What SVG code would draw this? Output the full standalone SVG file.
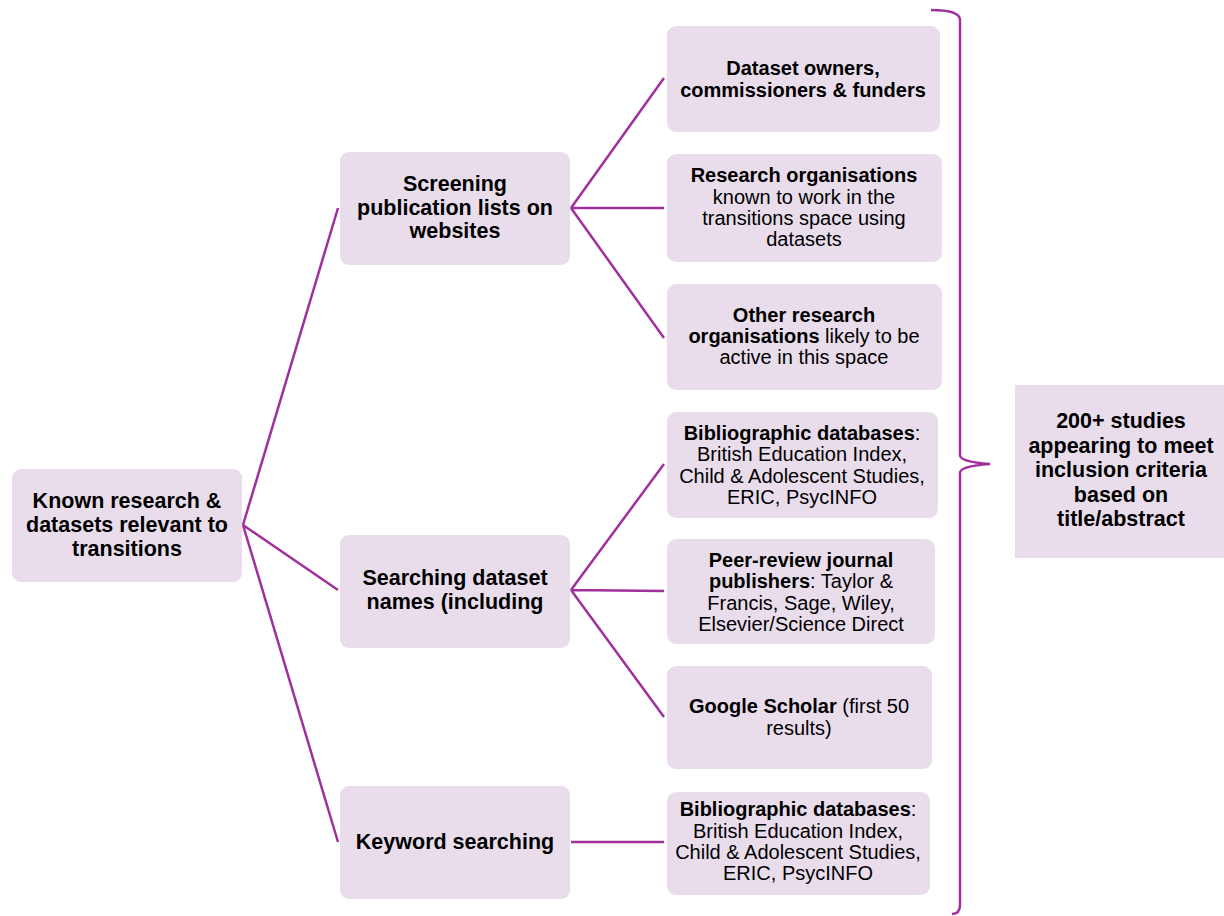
<svg xmlns="http://www.w3.org/2000/svg" width="1224" height="916" viewBox="0 0 1224 916">
<style>
.box{fill:#E9DDEC;}
.t{font-family:"Liberation Sans",Arial,sans-serif;fill:#000;text-anchor:middle;}
.l2{font-size:21.5px;font-weight:bold;}
.l3{font-size:20px;}
.b{font-weight:bold;}
.con{fill:none;stroke:#A0309B;stroke-width:2.5;}
</style>
<rect width="1224" height="916" fill="#fff"/>
<g id="connectors">
<path class="con" d="M243 525 L338 208 M243 525 L338 590 M243 525 L338 842"/>
<path class="con" d="M571 208 L664 78 M571 208 L664 208 M571 208 L664 338"/>
<path class="con" d="M571 590 L664 464 M571 590 L664 591 M571 590 L664 717"/>
<path class="con" d="M571 842 L664 842"/>
<path class="con" d="M931 10 Q960 10 960 20 L960 455 Q960 462 990 464 Q960 466 960 473 L960 905 Q960 914 952 914"/>
</g>
<g id="root">
<rect class="box" x="12" y="469" width="230" height="113" rx="9"/>
<text class="t l2"><tspan x="127" y="508">Known research &amp;</tspan><tspan x="127" y="532">datasets relevant to</tspan><tspan x="127" y="556">transitions</tspan></text>
</g>
<g id="screening">
<rect class="box" x="340" y="152" width="230" height="113" rx="9"/>
<text class="t l2"><tspan x="455" y="191">Screening</tspan><tspan x="455" y="214.5">publication lists on</tspan><tspan x="455" y="238">websites</tspan></text>
</g>
<g id="searching">
<rect class="box" x="340" y="535" width="230" height="113" rx="9"/>
<text class="t l2"><tspan x="455" y="585">Searching dataset</tspan><tspan x="455" y="609">names (including</tspan></text>
</g>
<g id="keyword">
<rect class="box" x="340" y="786" width="230" height="113" rx="9"/>
<text class="t l2"><tspan x="455" y="849">Keyword searching</tspan></text>
</g>
<g id="owners">
<rect class="box" x="667" y="26" width="273" height="106" rx="9"/>
<text class="t l3 b"><tspan x="803" y="75">Dataset owners,</tspan><tspan x="803" y="97">commissioners &amp; funders</tspan></text>
</g>
<g id="research-orgs">
<rect class="box" x="667" y="154" width="275" height="108" rx="9"/>
<text class="t l3"><tspan x="804" y="182" class="b">Research organisations</tspan><tspan x="804" y="204">known  to work in the</tspan><tspan x="804" y="225">transitions space using</tspan><tspan x="804" y="246">datasets</tspan></text>
</g>
<g id="other-orgs">
<rect class="box" x="667" y="284" width="275" height="106" rx="9"/>
<text class="t l3"><tspan x="804" y="322" class="b">Other research</tspan><tspan x="804" y="343"><tspan class="b">organisations</tspan> likely to be</tspan><tspan x="804" y="364">active in this space</tspan></text>
</g>
<g id="biblio1">
<rect class="box" x="667" y="412" width="271" height="106" rx="9"/>
<text class="t l3"><tspan x="802" y="440"><tspan class="b">Bibliographic databases</tspan>:</tspan><tspan x="802" y="461">British Education Index,</tspan><tspan x="802" y="483">Child &amp; Adolescent Studies,</tspan><tspan x="802" y="504">ERIC, PsycINFO</tspan></text>
</g>
<g id="peer">
<rect class="box" x="667" y="539" width="268" height="105" rx="9"/>
<text class="t l3"><tspan x="801" y="567" class="b">Peer-review journal</tspan><tspan x="801" y="588"><tspan class="b">publishers</tspan>: Taylor &amp;</tspan><tspan x="801" y="610">Francis, Sage, Wiley,</tspan><tspan x="801" y="631">Elsevier/Science Direct</tspan></text>
</g>
<g id="google">
<rect class="box" x="667" y="666" width="265" height="103" rx="9"/>
<text class="t l3"><tspan x="799" y="713"><tspan class="b">Google Scholar</tspan> (first 50</tspan><tspan x="799" y="735">results)</tspan></text>
</g>
<g id="biblio2">
<rect class="box" x="667" y="792" width="263" height="103" rx="9"/>
<text class="t l3"><tspan x="798" y="816"><tspan class="b">Bibliographic databases</tspan>:</tspan><tspan x="798" y="838">British Education Index,</tspan><tspan x="798" y="859">Child &amp; Adolescent Studies,</tspan><tspan x="798" y="880">ERIC, PsycINFO</tspan></text>
</g>
<g id="result">
<rect class="box" x="1015" y="385" width="209" height="173"/>
<text class="t l2"><tspan x="1121" y="428">200+ studies</tspan><tspan x="1121" y="453">appearing to meet</tspan><tspan x="1121" y="477">inclusion criteria</tspan><tspan x="1121" y="502">based on</tspan><tspan x="1121" y="526">title/abstract</tspan></text>
</g>
</svg>
